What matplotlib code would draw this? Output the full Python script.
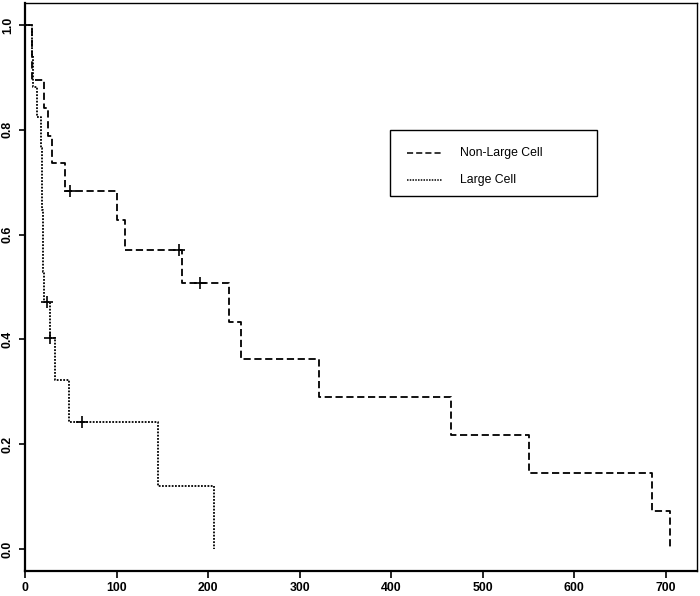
# Kaplan-Meier style survival curves: Non-Large Cell vs Large Cell

import matplotlib.pyplot as plt
from matplotlib.patches import Rectangle
from matplotlib.lines import Line2D

plt.rcParams['font.family'] = ['Liberation Sans', 'DejaVu Sans']

# step curves (time, survival after the step)
nonlarge_t = [0, 8, 21, 25, 30, 44, 101, 109, 172, 223, 236, 321, 465, 550, 685, 705]
nonlarge_s = [1.0, 0.895, 0.842, 0.789, 0.737, 0.684, 0.627, 0.570, 0.507, 0.434,
              0.362, 0.290, 0.217, 0.145, 0.072, 0.0]
nonlarge_cens_t = [49, 168, 191]
nonlarge_cens_s = [0.684, 0.570, 0.507]

large_t = [0, 8, 9, 13, 18, 19, 20, 21, 27, 33, 48, 145, 206]
large_s = [1.0, 0.941, 0.882, 0.824, 0.765, 0.647, 0.529, 0.471, 0.403, 0.322,
           0.242, 0.121, 0.0]
large_cens_t = [24, 27, 62]
large_cens_s = [0.471, 0.403, 0.242]

labels = ["Non-Large Cell", "Large Cell"]
styles = [(0, (4, 2)), (0, (1, 0.8))]

W, H = 700, 596
fig = plt.figure(figsize=(W / 100, H / 100), dpi=100)
ax = fig.add_axes([25 / W, 1 - 571 / H, 672 / W, 568 / H])

ax.step(nonlarge_t, nonlarge_s, where='post', color='black', lw=1.3, linestyle=styles[0])
ax.step(large_t, large_s, where='post', color='black', lw=1.3, linestyle=styles[1])
ax.plot(nonlarge_cens_t, nonlarge_cens_s, '+', color='black', ms=9, mew=1.2)
ax.plot(large_cens_t, large_cens_s, '+', color='black', ms=9, mew=1.2)

ax.set_xlim(0, 734)
ax.set_ylim(-0.042, 1.042)
ax.set_xticks(range(0, 701, 100))
ax.set_yticks([0.0, 0.2, 0.4, 0.6, 0.8, 1.0])
ax.set_yticklabels(["0.0", "0.2", "0.4", "0.6", "0.8", "1.0"], rotation=90, va='center')
ax.tick_params(axis='x', length=5, width=1.2, labelsize=8.8, pad=3)
ax.tick_params(axis='y', length=4, width=1.2, labelsize=8.8, pad=4)
for lbl in ax.get_xticklabels() + ax.get_yticklabels():
    lbl.set_fontweight('bold')
for side in ['left', 'bottom']:
    ax.spines[side].set_linewidth(1.6)
for side in ['top', 'right']:
    ax.spines[side].set_linewidth(1.0)

# legend box drawn by hand to match its wide frame
tf = fig.transFigure
fig.add_artist(Rectangle((390 / W, 1 - 196 / H), 207 / W, 66 / H, transform=tf,
                         fill=False, edgecolor='black', lw=1.0))
for i, (lab, ls) in enumerate(zip(labels, styles)):
    y = 1 - (153 + 27 * i) / H
    fig.add_artist(Line2D([407 / W, 442 / W], [y, y], transform=tf, color='black',
                          lw=1.1, linestyle=ls))
    fig.text(460 / W, y, lab, fontsize=8.8, va='center', ha='left')

fig.savefig('out.png', dpi=100)
